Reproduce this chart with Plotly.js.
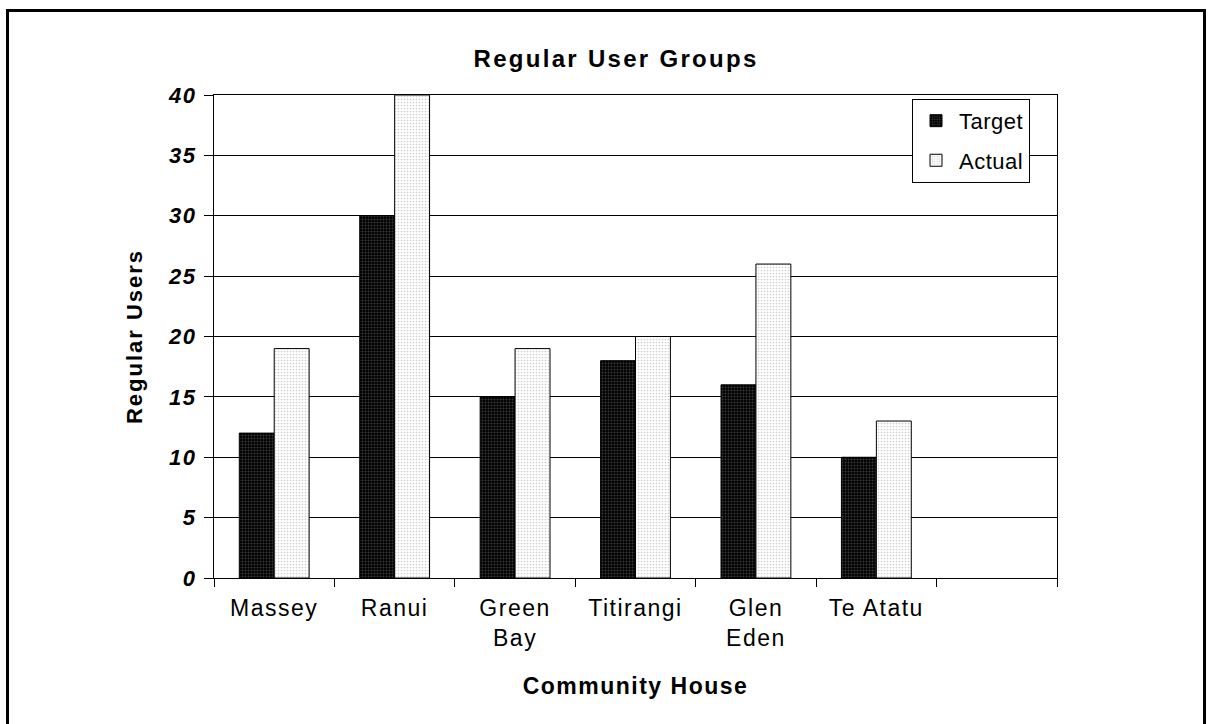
<!DOCTYPE html>
<html>
<head>
<meta charset="utf-8">
<script src="https://cdn.plot.ly/plotly-3.0.1.min.js"></script>
<style>
  html, body { margin: 0; padding: 0; background: #fff; overflow: hidden; }
  #chart { position: absolute; left: 0; top: 0; width: 1208px; height: 724px; }
  #frame {
    position: absolute; left: 6px; top: 9px; width: 1200px; height: 800px;
    box-sizing: border-box; border: 3px solid #000; border-bottom: none;
    pointer-events: none;
  }
  .gtitle { letter-spacing: 2.3px; }
  .xtitle { letter-spacing: 1.5px; }
  .ytitle { letter-spacing: 2px; }
  .xtick text, .ytick text { letter-spacing: 1.5px; }
  .legendtext { letter-spacing: 0.5px; }
</style>
</head>
<body>
<div id="chart"></div>
<div id="frame"></div>
<script>
// Community houses (the last slot is left empty on the axis)
const houses = ['Massey', 'Ranui', 'Green<br>Bay', 'Titirangi', 'Glen<br>Eden', 'Te Atatu', ' '];
// Regular user groups per house
const targetUsers = [12, 30, 15, 18, 16, 10, null];
const actualUsers = [19, 40, 19, 20, 26, 13, null];

const FONT = 'Liberation Sans, Arial, sans-serif';

const traces = [
  {
    type: 'bar', name: 'Target', x: houses, y: targetUsers, legendgroup: 'a',
    marker: {
      color: '#000',
      line: { color: '#000', width: 1 },
      pattern: { shape: '.', fillmode: 'replace', bgcolor: '#000', fgcolor: '#3a3a3a', size: 3, solidity: 0.35 }
    },
    hoverinfo: 'x+y'
  },
  {
    type: 'bar', name: 'Actual', x: houses, y: actualUsers, legendgroup: 'b',
    marker: {
      color: '#fff',
      line: { color: '#000', width: 1 },
      pattern: { shape: '.', fillmode: 'replace', bgcolor: '#fff', fgcolor: '#cfcfcf', size: 3, solidity: 0.25 }
    },
    hoverinfo: 'x+y'
  }
];

const layout = {
  width: 1208, height: 724,
  paper_bgcolor: '#fff', plot_bgcolor: '#fff',
  margin: { l: 214, r: 151, t: 95, b: 146, pad: 0 },
  font: { family: FONT, color: '#000' },
  title: {
    text: 'Regular User Groups',
    font: { family: FONT, size: 24, weight: 'bold', color: '#000' },
    xref: 'container', x: 0.51, xanchor: 'center',
    yref: 'container', y: 0.919, yanchor: 'middle'
  },
  barmode: 'group', bargap: 0.42, bargroupgap: 0,
  xaxis: {
    type: 'category',
    range: [-0.5, 6.5],
    tickson: 'boundaries',
    ticks: 'outside', ticklen: 8, tickcolor: '#000', tickwidth: 1,
    showline: true, linecolor: '#000', linewidth: 1, mirror: true,
    showgrid: false, zeroline: false,
    ticklabelstandoff: 9,
    tickfont: { family: FONT, size: 23, color: '#000' },
    title: { text: 'Community House', standoff: 28, font: { family: FONT, size: 23, weight: 'bold', color: '#000' } },
    fixedrange: true
  },
  yaxis: {
    range: [0, 40], dtick: 5, tick0: 0,
    ticks: 'outside', ticklen: 9, tickcolor: '#000', tickwidth: 1,
    showline: true, linecolor: '#000', linewidth: 1, mirror: true,
    showgrid: true, gridcolor: '#000', gridwidth: 1, zeroline: false,
    ticklabelstandoff: 3,
    tickfont: { family: FONT, size: 22, weight: 'bold', style: 'italic', color: '#000' },
    title: { text: 'Regular Users', standoff: 19, font: { family: FONT, size: 22, weight: 'bold', color: '#000' } },
    fixedrange: true
  },
  showlegend: true,
  legend: {
    x: 0.828, xanchor: 'left', y: 0.992, yanchor: 'top',
    bordercolor: '#000', borderwidth: 1, bgcolor: '#fff',
    font: { family: FONT, size: 22, color: '#000' },
    itemwidth: 36,
    traceorder: 'grouped', tracegroupgap: 8,
    itemclick: false, itemdoubleclick: false
  }
};

Plotly.newPlot('chart', traces, layout, { displayModeBar: false, staticPlot: true });
</script>
</body>
</html>
